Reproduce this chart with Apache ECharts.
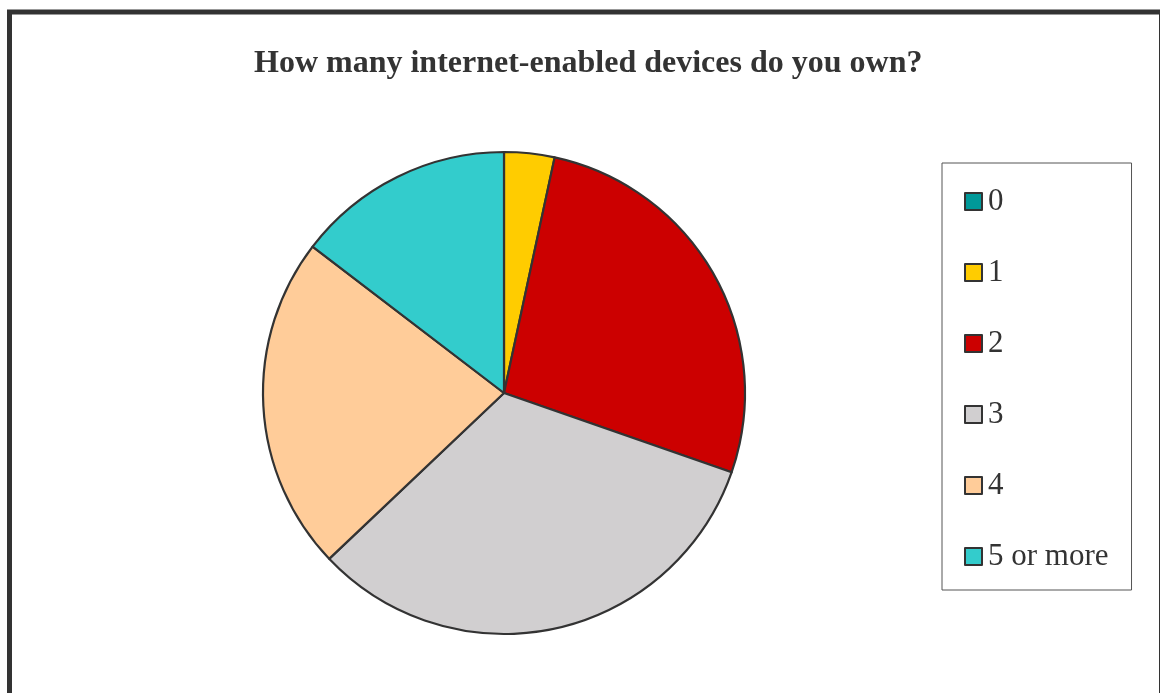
<!DOCTYPE html>
<html>
<head>
<meta charset="utf-8">
<script src="https://cdn.jsdelivr.net/npm/echarts@6/dist/echarts.min.js"></script>
<style>
  html, body { margin: 0; padding: 0; background: #fff; }
  #chart { width: 1160px; height: 693px; }
</style>
</head>
<body>
<div id="chart"></div>
<script>
// Survey answers: number of internet-enabled devices owned
const categories = ['0', '1', '2', '3', '4', '5 or more'];
const counts = [0, 3, 24, 29, 20, 13];
const colors = ['#009999', '#FFCC00', '#CC0000', '#D1CFD0', '#FFCC99', '#33CCCC'];
const titleText = 'How many internet-enabled devices do you own?';

const serif = '"Liberation Serif", "DejaVu Serif", serif';

const chart = echarts.init(document.getElementById('chart'), null, { renderer: 'canvas' });

chart.setOption({
  backgroundColor: '#ffffff',
  animation: false,
  title: {
    text: titleText,
    left: 254,
    top: 48,
    padding: 0,
    textStyle: {
      fontFamily: serif,
      fontWeight: 'bold',
      fontSize: 32,
      color: '#333333'
    }
  },
  legend: {
    orient: 'vertical',
    left: 942,
    top: 163,
    padding: [23, 23, 18, 22],
    backgroundColor: '#ffffff',
    borderColor: '#555555',
    borderWidth: 1,
    borderRadius: 0,
    icon: 'rect',
    itemWidth: 17,
    itemHeight: 17,
    itemGap: 40,
    selectedMode: false,
    itemStyle: { borderColor: '#333333', borderWidth: 2 },
    textStyle: {
      fontFamily: serif,
      fontSize: 31,
      lineHeight: 30,
      color: '#333333',
      padding: [0, 0, 0, 1]
    },
    data: categories
  },
  graphic: [{
    type: 'rect',
    shape: { x: 9.5, y: 12, width: 1152, height: 700 },
    style: { fill: null, stroke: '#333333', lineWidth: 5 },
    silent: true,
    z: 100
  }],
  series: [{
    type: 'pie',
    center: [504, 393],
    radius: 241,
    startAngle: 90,
    clockwise: true,
    label: { show: false },
    labelLine: { show: false },
    emphasis: { disabled: true },
    itemStyle: { borderColor: '#333333', borderWidth: 2.2 },
    data: categories.map((name, i) => ({
      name: name,
      value: counts[i],
      itemStyle: { color: colors[i] }
    }))
  }]
});
</script>
</body>
</html>
